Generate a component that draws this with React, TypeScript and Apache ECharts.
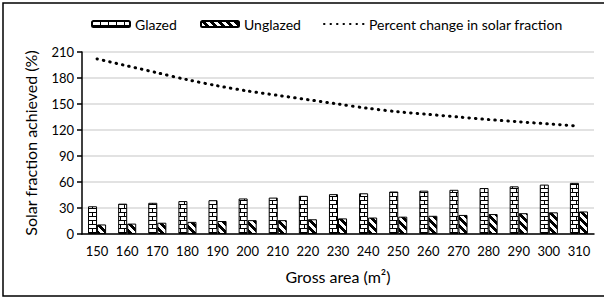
import React, { useEffect, useRef } from "react";
import * as echarts from "echarts";

const categories = ["150","160","170","180","190","200","210","220","230","240","250","260","270","280","290","300","310"];
const glazed = [32,35,36,38,39,41,42,44,46,47,49,50,51,53,55,57,59];
const unglazed = [11,12,13,14,15,16,16,17,18,19,20,21,22,23,24,25,26];
const percentChange = [202,194,186,178,171,165,160,155,150,145,141,138,135,132,129.5,127,124.5];
const yTicks = { min: 0, max: 210, interval: 30 };

function makeTile(kind: "brick" | "diag"): HTMLCanvasElement {
  const c = document.createElement("canvas");
  c.width = 8; c.height = 8;
  const ctx = c.getContext("2d")!;
  ctx.fillStyle = "#fff";
  ctx.fillRect(0, 0, 8, 8);
  ctx.fillStyle = "#000";
  if (kind === "brick") {
    ctx.fillRect(0, 0, 8, 1);
    ctx.fillRect(0, 4, 8, 1);
    ctx.fillRect(0, 0, 1, 4);
    ctx.fillRect(4, 4, 1, 4);
  } else {
    for (let x = 0; x < 8; x++) {
      for (let y = 0; y < 8; y++) {
        const d = (((x - y) % 8) + 8) % 8;
        if (d <= 3) ctx.fillRect(x, y, 1, 1);
      }
    }
  }
  return c;
}

export default function App() {
  const ref = useRef<HTMLDivElement>(null);
  useEffect(() => {
    if (!ref.current) return;
    const chart = echarts.init(ref.current, null, { renderer: "svg" });
    const brick = makeTile("brick");
    const diag = makeTile("diag");
    const font = "Lato";
    const legendText = { fontFamily: font, fontSize: 14, color: "#000" };
    chart.setOption({
      animation: false,
      backgroundColor: "#fff",
      textStyle: { fontFamily: font },
      graphic: [
        {
          type: "rect",
          shape: { x: 3, y: 3, width: 610, height: 293 },
          style: { fill: "none", stroke: "#000", lineWidth: 1.5 },
          silent: true,
        },
      ],
      legend: [
        {
          left: 86, top: 12, itemWidth: 38, itemHeight: 6, itemGap: 0,
          textStyle: legendText, data: ["Glazed"],
        },
        {
          left: 195, top: 12, itemWidth: 38, itemHeight: 6, itemGap: 0,
          textStyle: legendText, data: ["Unglazed"],
        },
        {
          left: 318, top: 12, itemWidth: 40, itemHeight: 6, itemGap: 0,
          textStyle: legendText,
          data: [{ name: "Percent change in solar fraction", itemStyle: { opacity: 0 } }],
        },
      ],
      grid: { left: 82, right: 10, top: 52, bottom: 64 },
      xAxis: {
        type: "category",
        data: categories,
        name: "Gross area (m²)",
        nameLocation: "middle",
        nameGap: 34,
        nameTextStyle: { fontFamily: font, fontSize: 16, color: "#000" },
        axisLine: { lineStyle: { color: "#000", width: 1.5 } },
        axisTick: { length: 5, lineStyle: { color: "#000", width: 1.5 } },
        axisLabel: { fontFamily: font, fontSize: 13, color: "#000", margin: 10 },
      },
      yAxis: {
        type: "value",
        min: yTicks.min,
        max: yTicks.max,
        interval: yTicks.interval,
        name: "Solar fraction achieved (%)",
        nameLocation: "middle",
        nameGap: 44,
        nameTextStyle: { fontFamily: font, fontSize: 16, color: "#000" },
        axisLine: { show: true, lineStyle: { color: "#000", width: 1.5 } },
        axisTick: { show: true, length: 5, lineStyle: { color: "#000", width: 1.5 } },
        axisLabel: { fontFamily: font, fontSize: 13, color: "#000", margin: 8 },
        splitLine: { lineStyle: { color: "#d9d9d9", width: 1.5 } },
      },
      series: [
        {
          name: "Glazed",
          type: "bar",
          data: glazed,
          barGap: "0%",
          barCategoryGap: "40%",
          itemStyle: {
            color: { image: brick, repeat: "repeat", imageWidth: 8, imageHeight: 8 } as any,
            borderColor: "#000",
            borderWidth: 1,
          },
        },
        {
          name: "Unglazed",
          type: "bar",
          data: unglazed,
          itemStyle: {
            color: { image: diag, repeat: "repeat", imageWidth: 8, imageHeight: 8 } as any,
            borderColor: "#000",
            borderWidth: 1,
          },
        },
        {
          name: "Percent change in solar fraction",
          type: "line",
          data: percentChange,
          smooth: 0.3,
          symbol: "none",
          lineStyle: { color: "#000", width: 3, type: [0.5, 6], cap: "round" },
          itemStyle: { color: "#000" },
        },
      ],
    });
    return () => chart.dispose();
  }, []);
  return (
    <div
      ref={ref}
      style={{ position: "absolute", left: 0, top: 0, width: 604, height: 298 }}
    />
  );
}
